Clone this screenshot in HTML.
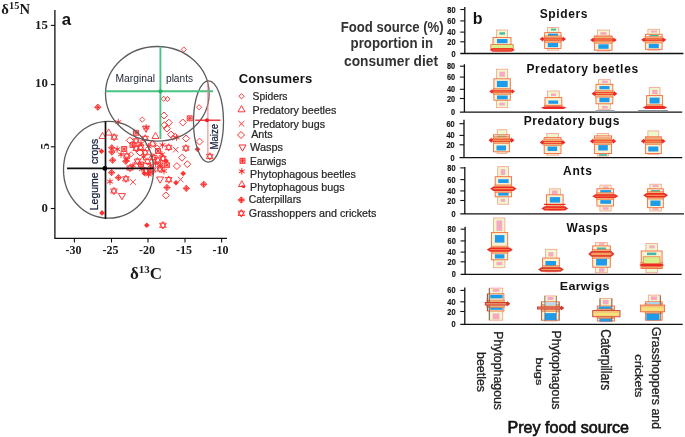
<!DOCTYPE html>
<html><head><meta charset="utf-8"><title>Figure</title>
<style>
html,body{margin:0;padding:0;background:#fff;}
body{width:685px;height:437px;overflow:hidden;}
svg{display:block;filter:blur(0.4px);}
.ser{font-family:"Liberation Serif",serif;font-weight:bold;fill:#1a1a1a;}
.sans{font-family:"Liberation Sans",sans-serif;}
.b{font-weight:bold;}
</style></head><body>
<svg width="685" height="437" viewBox="0 0 685 437">
<rect width="685" height="437" fill="#fff"/>
<defs>
<g id="m-sp" fill="none" stroke="#ff2020" stroke-width="0.9"><path d="M0-2.6L2.6 0L0 2.6L-2.6 0Z"/></g>
<g id="m-pb" fill="none" stroke="#ff2020" stroke-width="0.9"><path d="M0-3.6L3.5 2.6L-3.5 2.6Z"/></g>
<g id="m-px" fill="none" stroke="#ff2020" stroke-width="0.9"><path d="M-2.8-2.8L2.8 2.8M-2.8 2.8L2.8-2.8"/></g>
<g id="m-an" fill="none" stroke="#ff2020" stroke-width="0.95"><path d="M0-3.5L3.5 0L0 3.5L-3.5 0Z"/></g>
<g id="m-wa" fill="none" stroke="#ff2020" stroke-width="0.95"><path d="M0 3.6L3.5-2.6L-3.5-2.6Z"/></g>
<g id="m-ea" fill="none" stroke="#ff2020" stroke-width="0.9"><path d="M-2.5-2.5H2.5V2.5H-2.5ZM-2.5-2.5L2.5 2.5M-2.5 2.5L2.5-2.5M0-2.5V2.5M-2.5 0H2.5"/></g>
<g id="m-hb" fill="none" stroke="#ff2020" stroke-width="0.9"><path d="M0-3.4V3.4M-3-1.7L3 1.7M-3 1.7L3-1.7"/><circle r="1.3" fill="#ff2020" stroke="none"/></g>
<g id="m-hg" fill="none" stroke="#ff2020" stroke-width="0.9"><path d="M0-3.6L3.3 2.2L-3.3 2.2Z"/><path d="M0.5 0.5L3 3.4M0 1L2 3.8" /><circle cx="1.6" cy="2.6" r="1.2" fill="#ff2020" stroke="none"/></g>
<g id="m-ca" stroke="#ff2020" stroke-width="0.9"><path d="M0-3.1L3.1 0L0 3.1L-3.1 0Z" fill="#ffb0b0"/><path d="M0-3.1V3.1M-3.1 0H3.1" fill="none"/><path d="M0-1.6L1.6 0L0 1.6L-1.6 0Z" fill="#ff2020" stroke="none"/></g>
<g id="m-gr" fill="none" stroke="#ff2020" stroke-width="0.9"><path d="M0-3.7L3.3 2.1L-3.3 2.1Z"/><path d="M0 3.7L3.3-2.1L-3.3-2.1Z"/></g>
<g id="m-fd" stroke="none" fill="#ff2020"><path d="M0-2.8L2.8 0L0 2.8L-2.8 0Z"/></g>
</defs>

<g id="panel-a">
<path d="M54.9 10V238.3H227" fill="none" stroke="#111" stroke-width="1.3"/>
<path d="M50.8 25.4H55" stroke="#111" stroke-width="1.1"/>
<path d="M50.8 84.6H55" stroke="#111" stroke-width="1.1"/>
<path d="M50.8 146.8H55" stroke="#111" stroke-width="1.1"/>
<path d="M50.8 208.5H55" stroke="#111" stroke-width="1.1"/>
<path d="M74.4 238.4V242.5" stroke="#111" stroke-width="1.1"/>
<path d="M111.5 238.4V242.5" stroke="#111" stroke-width="1.1"/>
<path d="M148 238.4V242.5" stroke="#111" stroke-width="1.1"/>
<path d="M185 238.4V242.5" stroke="#111" stroke-width="1.1"/>
<path d="M221.6 238.4V242.5" stroke="#111" stroke-width="1.1"/>
<text class="ser" x="47.8" y="28.5" font-size="12.8" text-anchor="end">15</text>
<text class="ser" x="47.8" y="87.4" font-size="12.8" text-anchor="end">10</text>
<text class="ser" x="47.8" y="212.0" font-size="12.8" text-anchor="end">0</text>
<text class="ser" transform="translate(49.3,146.3) rotate(-90)" font-size="12.8" text-anchor="middle">5</text>
<text class="ser" x="73.5" y="254.3" font-size="12" text-anchor="middle">-30</text>
<text class="ser" x="110.5" y="254.3" font-size="12" text-anchor="middle">-25</text>
<text class="ser" x="147" y="254.3" font-size="12" text-anchor="middle">-20</text>
<text class="ser" x="184" y="254.3" font-size="12" text-anchor="middle">-15</text>
<text class="ser" x="220.6" y="254.3" font-size="12" text-anchor="middle">-10</text>
<text class="ser" x="1.3" y="13.8" font-size="14.6" textLength="28.8" lengthAdjust="spacing">δ<tspan font-size="10.4" dy="-4.8">15</tspan><tspan dy="4.8">N</tspan></text>
<text class="ser" x="130" y="279" font-size="17">δ<tspan font-size="11" dy="-6">13</tspan><tspan dy="6">C</tspan></text>
<text class="sans b" x="61.7" y="24.8" font-size="16.8" fill="#111">a</text>
<g id="scatter" opacity="0.92">
<use href="#m-ca" x="97.8" y="107.2"/>
<use href="#m-hb" x="118.3" y="122.1"/>
<use href="#m-sp" x="142.3" y="119.6"/>
<use href="#m-sp" x="163.7" y="98.8"/>
<use href="#m-sp" x="167.5" y="99.0"/>
<use href="#m-an" x="164.0" y="115.5"/>
<use href="#m-sp" x="183.8" y="49.5"/>
<use href="#m-sp" x="199.1" y="107.2"/>
<use href="#m-ea" x="189.7" y="118.3"/>
<use href="#m-an" x="182.8" y="122.5"/>
<use href="#m-an" x="164.4" y="125.2"/>
<use href="#m-an" x="168.8" y="122.7"/>
<use href="#m-an" x="166.9" y="128.6"/>
<use href="#m-an" x="171.1" y="134.6"/>
<use href="#m-sp" x="175.3" y="135.9"/>
<use href="#m-hb" x="176.5" y="137.5"/>
<use href="#m-sp" x="173.0" y="137.8"/>
<use href="#m-wa" x="146.0" y="128.8"/>
<use href="#m-hb" x="146.2" y="127.6"/>
<use href="#m-pb" x="102.5" y="135.9"/>
<use href="#m-pb" x="108.7" y="132.5"/>
<use href="#m-gr" x="114.2" y="137.2"/>
<use href="#m-ea" x="136.0" y="132.8"/>
<use href="#m-pb" x="155.5" y="135.9"/>
<use href="#m-an" x="129.8" y="140.4"/>
<use href="#m-an" x="186.1" y="138.5"/>
<use href="#m-an" x="199.5" y="141.6"/>
<use href="#m-gr" x="136.0" y="140.9"/>
<use href="#m-gr" x="145.2" y="138.4"/>
<use href="#m-an" x="152.7" y="143.6"/>
<use href="#m-pb" x="152.5" y="143.5"/>
<use href="#m-fd" x="101.5" y="151.2"/>
<use href="#m-hb" x="162.5" y="145.0"/>
<use href="#m-gr" x="168.7" y="147.4"/>
<use href="#m-px" x="175.7" y="149.7"/>
<use href="#m-gr" x="185.9" y="148.2"/>
<use href="#m-fd" x="197.5" y="149.2"/>
<use href="#m-ca" x="111.8" y="147.8"/>
<use href="#m-ca" x="111.8" y="152.0"/>
<use href="#m-hb" x="117.2" y="149.2"/>
<use href="#m-ea" x="124.2" y="149.0"/>
<use href="#m-gr" x="136.2" y="148.4"/>
<use href="#m-gr" x="140.6" y="147.4"/>
<use href="#m-gr" x="126.8" y="156.0"/>
<use href="#m-ca" x="112.6" y="160.2"/>
<use href="#m-gr" x="137.5" y="161.2"/>
<use href="#m-ca" x="125.8" y="161.2"/>
<use href="#m-sp" x="131.0" y="154.3"/>
<use href="#m-hb" x="127.0" y="159.6"/>
<use href="#m-gr" x="145.2" y="152.6"/>
<use href="#m-hb" x="151.9" y="156.0"/>
<use href="#m-gr" x="157.7" y="160.1"/>
<use href="#m-hb" x="161.9" y="154.3"/>
<use href="#m-fd" x="166.1" y="161.0"/>
<use href="#m-ea" x="166.9" y="165.2"/>
<use href="#m-an" x="182.0" y="157.7"/>
<use href="#m-an" x="187.3" y="164.2"/>
<use href="#m-an" x="176.9" y="166.1"/>
<use href="#m-fd" x="183.2" y="173.5"/>
<use href="#m-px" x="180.6" y="179.5"/>
<use href="#m-fd" x="176.0" y="182.8"/>
<use href="#m-ca" x="203.7" y="184.3"/>
<use href="#m-ca" x="186.3" y="188.4"/>
<use href="#m-gr" x="168.7" y="179.6"/>
<use href="#m-wa" x="160.1" y="179.6"/>
<use href="#m-ca" x="167.0" y="187.5"/>
<use href="#m-an" x="165.9" y="195.4"/>
<use href="#m-ca" x="111.6" y="172.6"/>
<use href="#m-ca" x="118.4" y="177.6"/>
<use href="#m-gr" x="125.9" y="178.8"/>
<use href="#m-px" x="133.0" y="182.1"/>
<use href="#m-hb" x="110.0" y="181.6"/>
<use href="#m-gr" x="113.9" y="191.0"/>
<use href="#m-wa" x="122.0" y="196.2"/>
<use href="#m-fd" x="102.0" y="212.9"/>
<use href="#m-gr" x="209.8" y="156.4"/>
<use href="#m-fd" x="146.8" y="225.3"/>
<use href="#m-gr" x="162.9" y="225.3"/>
<use href="#m-hb" x="142.0" y="169.0"/>
<use href="#m-gr" x="146.0" y="171.0"/>
<use href="#m-ea" x="150.0" y="172.3"/>
<use href="#m-hb" x="148.5" y="174.5"/>
<use href="#m-gr" x="152.5" y="170.0"/>
<use href="#m-fd" x="144.5" y="173.5"/>
<use href="#m-gr" x="153.5" y="157.5"/>
<use href="#m-hb" x="155.5" y="163.5"/>
<use href="#m-ea" x="160.5" y="165.5"/>
<use href="#m-gr" x="163.0" y="158.5"/>
<use href="#m-ea" x="158.0" y="151.0"/>
<use href="#m-hb" x="141.0" y="143.5"/>
<use href="#m-ea" x="132.5" y="145.0"/>
<use href="#m-hb" x="148.5" y="146.5"/>
<use href="#m-hb" x="143.5" y="157.0"/>
<use href="#m-gr" x="147.5" y="161.5"/>
<use href="#m-ea" x="141.0" y="164.5"/>
<use href="#m-hb" x="150.5" y="165.5"/>
<use href="#m-hb" x="133.0" y="165.5"/>
<use href="#m-gr" x="130.0" y="168.0"/>
<use href="#m-hb" x="121.0" y="154.5"/>
<use href="#m-an" x="140.0" y="152.5"/>
<use href="#m-sp" x="157.0" y="147.5"/>
<use href="#m-gr" x="160.0" y="169.0"/>
<use href="#m-hb" x="164.0" y="171.0"/>
</g>
<g fill="none" stroke="#5c5c5c" stroke-width="1.3">
<ellipse cx="157.3" cy="93.8" rx="51.8" ry="47.3"/>
<ellipse cx="108.5" cy="169.8" rx="45" ry="48.4"/>
<ellipse cx="208.5" cy="121.5" rx="15" ry="40.6"/>
</g>
<path d="M105.5 91.3H213M160.4 46.5V139" stroke="#49c384" stroke-width="1.9" fill="none"/>
<circle cx="160.4" cy="91.3" r="2.1" fill="#2fae6c"/>
<path d="M67 168.3H153.6M105.5 121.3V219" stroke="#111" stroke-width="1.7" fill="none"/>
<circle cx="104.8" cy="168.4" r="2.4" fill="#000"/>
<path d="M207.9 81.5V154" stroke="#f47a7e" stroke-width="1" fill="none"/>
<path d="M195.3 120.2H220.5" stroke="#ee1c25" stroke-width="1.3" fill="none"/>
<circle cx="207" cy="120.2" r="2" fill="#ee1c25"/>
<text class="sans" x="115.5" y="82" font-size="10.2" fill="#1c2230" textLength="39.5" lengthAdjust="spacingAndGlyphs">Marginal</text>
<text class="sans" x="166" y="82" font-size="10.2" fill="#1c2230" textLength="27" lengthAdjust="spacingAndGlyphs">plants</text>
<text class="sans" transform="translate(98,210.2) rotate(-90)" font-size="10.4" fill="#18203a" stroke="#18203a" stroke-width="0.25" textLength="37.8" lengthAdjust="spacingAndGlyphs">Legume</text>
<text class="sans" transform="translate(98,164.1) rotate(-90)" font-size="10.4" fill="#18203a" stroke="#18203a" stroke-width="0.25" textLength="25.2" lengthAdjust="spacingAndGlyphs">crops</text>
<text class="sans" transform="translate(217.6,149.5) rotate(-90)" font-size="10.4" fill="#18203a" stroke="#18203a" stroke-width="0.25" textLength="25.5" lengthAdjust="spacingAndGlyphs">Maize</text>
</g>
<g id="legend">
<text class="sans b" x="238.7" y="83.3" font-size="13" fill="#111" textLength="73.6" lengthAdjust="spacing">Consumers</text>
<use href="#m-sp" x="241.5" y="96.3"/>
<text class="sans" x="252.5" y="100" font-size="10.6" fill="#262626" stroke="#262626" stroke-width="0.22" textLength="35" lengthAdjust="spacingAndGlyphs">Spiders</text>
<use href="#m-pb" x="241.5" y="109.2"/>
<text class="sans" x="252.5" y="113.8" font-size="10.6" fill="#262626" stroke="#262626" stroke-width="0.22" textLength="83.8" lengthAdjust="spacingAndGlyphs">Predatory beetles</text>
<use href="#m-px" x="241.5" y="123.8"/>
<text class="sans" x="252.5" y="127.5" font-size="10.6" fill="#262626" stroke="#262626" stroke-width="0.22" textLength="72.5" lengthAdjust="spacingAndGlyphs">Predatory bugs</text>
<use href="#m-an" x="241" y="135"/>
<text class="sans" x="251.2" y="138" font-size="10.6" fill="#262626" stroke="#262626" stroke-width="0.22" textLength="21.5" lengthAdjust="spacingAndGlyphs">Ants</text>
<use href="#m-wa" x="242.5" y="147.6"/>
<text class="sans" x="250" y="150.8" font-size="10.6" fill="#262626" stroke="#262626" stroke-width="0.22" textLength="33" lengthAdjust="spacingAndGlyphs">Wasps</text>
<use href="#m-ea" x="242.5" y="160.8"/>
<text class="sans" x="250" y="164.5" font-size="10.6" fill="#262626" stroke="#262626" stroke-width="0.22" textLength="36.3" lengthAdjust="spacingAndGlyphs">Earwigs</text>
<use href="#m-hb" x="241.8" y="171.3"/>
<text class="sans" x="250" y="177.5" font-size="10.6" fill="#262626" stroke="#262626" stroke-width="0.22" textLength="105.8" lengthAdjust="spacingAndGlyphs">Phytophagous beetles</text>
<use href="#m-hg" x="241.8" y="184.3"/>
<text class="sans" x="250" y="190.8" font-size="10.6" fill="#262626" stroke="#262626" stroke-width="0.22" textLength="94.5" lengthAdjust="spacingAndGlyphs">Phytophagous bugs</text>
<use href="#m-ca" x="241.3" y="200"/>
<text class="sans" x="248.8" y="203" font-size="10.6" fill="#262626" stroke="#262626" stroke-width="0.22" textLength="52.5" lengthAdjust="spacingAndGlyphs">Caterpillars</text>
<use href="#m-gr" x="241.3" y="213.3"/>
<text class="sans" x="248.8" y="217" font-size="10.6" fill="#262626" stroke="#262626" stroke-width="0.22" textLength="127.5" lengthAdjust="spacingAndGlyphs">Grasshoppers and crickets</text>
</g>
<g id="panel-b">
<g class="sans b" font-size="14.6" fill="#333" text-anchor="middle">
<text x="392.2" y="32" textLength="103" lengthAdjust="spacingAndGlyphs">Food source (%)</text>
<text x="391.8" y="48.3" textLength="82.5" lengthAdjust="spacingAndGlyphs">proportion in</text>
<text x="391" y="65.5" textLength="94" lengthAdjust="spacingAndGlyphs">consumer diet</text>
</g>
<text class="sans b" x="472.7" y="24.2" font-size="16" fill="#111">b</text>
<path d="M464.8 7V53.5M460.3 53.5H683.4" fill="none" stroke="#111" stroke-width="1.3"/>
<path d="M460.3 9.5H464.8" stroke="#111" stroke-width="1.1"/>
<text class="sans b" x="455.5" y="12.5" font-size="8.4" fill="#1c1c1c" stroke="#1c1c1c" stroke-width="0.2" text-anchor="end" textLength="8.2" lengthAdjust="spacingAndGlyphs">80</text>
<path d="M460.3 20.9H464.8" stroke="#111" stroke-width="1.1"/>
<text class="sans b" x="455.5" y="23.9" font-size="8.4" fill="#1c1c1c" stroke="#1c1c1c" stroke-width="0.2" text-anchor="end" textLength="8.2" lengthAdjust="spacingAndGlyphs">60</text>
<path d="M460.3 32.1H464.8" stroke="#111" stroke-width="1.1"/>
<text class="sans b" x="455.5" y="35.1" font-size="8.4" fill="#1c1c1c" stroke="#1c1c1c" stroke-width="0.2" text-anchor="end" textLength="8.2" lengthAdjust="spacingAndGlyphs">40</text>
<path d="M460.3 41.8H464.8" stroke="#111" stroke-width="1.1"/>
<text class="sans b" x="455.5" y="44.8" font-size="8.4" fill="#1c1c1c" stroke="#1c1c1c" stroke-width="0.2" text-anchor="end" textLength="8.2" lengthAdjust="spacingAndGlyphs">20</text>
<text class="sans b" x="455.5" y="56.5" font-size="8.4" fill="#1c1c1c" stroke="#1c1c1c" stroke-width="0.2" text-anchor="end" textLength="4.1" lengthAdjust="spacingAndGlyphs">0</text>
<text class="sans b" transform="translate(539.7,17.9) scale(1,1)" font-size="12.0" fill="#111" textLength="47.7" lengthAdjust="spacing">Spiders</text>
<path d="M464.4 64.2V112.2M459.9 112.2H682.2" fill="none" stroke="#111" stroke-width="1.3"/>
<path d="M459.9 66.2H464.4" stroke="#111" stroke-width="1.1"/>
<text class="sans b" x="455.09999999999997" y="69.2" font-size="8.4" fill="#1c1c1c" stroke="#1c1c1c" stroke-width="0.2" text-anchor="end" textLength="8.2" lengthAdjust="spacingAndGlyphs">80</text>
<path d="M459.9 77.1H464.4" stroke="#111" stroke-width="1.1"/>
<text class="sans b" x="455.09999999999997" y="80.1" font-size="8.4" fill="#1c1c1c" stroke="#1c1c1c" stroke-width="0.2" text-anchor="end" textLength="8.2" lengthAdjust="spacingAndGlyphs">60</text>
<path d="M459.9 89.3H464.4" stroke="#111" stroke-width="1.1"/>
<text class="sans b" x="455.09999999999997" y="92.3" font-size="8.4" fill="#1c1c1c" stroke="#1c1c1c" stroke-width="0.2" text-anchor="end" textLength="8.2" lengthAdjust="spacingAndGlyphs">40</text>
<path d="M459.9 98.5H464.4" stroke="#111" stroke-width="1.1"/>
<text class="sans b" x="455.09999999999997" y="101.5" font-size="8.4" fill="#1c1c1c" stroke="#1c1c1c" stroke-width="0.2" text-anchor="end" textLength="8.2" lengthAdjust="spacingAndGlyphs">20</text>
<text class="sans b" x="455.09999999999997" y="115.2" font-size="8.4" fill="#1c1c1c" stroke="#1c1c1c" stroke-width="0.2" text-anchor="end" textLength="4.1" lengthAdjust="spacingAndGlyphs">0</text>
<text class="sans b" transform="translate(526.4,73.2) scale(1,1)" font-size="12.0" fill="#111" textLength="111.8" lengthAdjust="spacing">Predatory beetles</text>
<path d="M464 119.7V157.7M459.5 157.7H682.2" fill="none" stroke="#111" stroke-width="1.3"/>
<path d="M459.5 123.7H464" stroke="#111" stroke-width="1.1"/>
<text class="sans b" x="454.7" y="126.7" font-size="8.4" fill="#1c1c1c" stroke="#1c1c1c" stroke-width="0.2" text-anchor="end" textLength="8.2" lengthAdjust="spacingAndGlyphs">60</text>
<path d="M459.5 135.4H464" stroke="#111" stroke-width="1.1"/>
<text class="sans b" x="454.7" y="138.4" font-size="8.4" fill="#1c1c1c" stroke="#1c1c1c" stroke-width="0.2" text-anchor="end" textLength="8.2" lengthAdjust="spacingAndGlyphs">40</text>
<path d="M459.5 144.8H464" stroke="#111" stroke-width="1.1"/>
<text class="sans b" x="454.7" y="147.8" font-size="8.4" fill="#1c1c1c" stroke="#1c1c1c" stroke-width="0.2" text-anchor="end" textLength="8.2" lengthAdjust="spacingAndGlyphs">20</text>
<text class="sans b" x="454.7" y="160.7" font-size="8.4" fill="#1c1c1c" stroke="#1c1c1c" stroke-width="0.2" text-anchor="end" textLength="4.1" lengthAdjust="spacingAndGlyphs">0</text>
<text class="sans b" transform="translate(523.7,125.2) scale(1,1)" font-size="12.0" fill="#111" textLength="95.8" lengthAdjust="spacing">Predatory bugs</text>
<path d="M464.8 167V213.9M460.3 213.9H683.9" fill="none" stroke="#111" stroke-width="1.3"/>
<path d="M460.3 167.9H464.8" stroke="#111" stroke-width="1.1"/>
<text class="sans b" x="455.5" y="170.9" font-size="8.4" fill="#1c1c1c" stroke="#1c1c1c" stroke-width="0.2" text-anchor="end" textLength="8.2" lengthAdjust="spacingAndGlyphs">80</text>
<path d="M460.3 179.6H464.8" stroke="#111" stroke-width="1.1"/>
<text class="sans b" x="455.5" y="182.6" font-size="8.4" fill="#1c1c1c" stroke="#1c1c1c" stroke-width="0.2" text-anchor="end" textLength="8.2" lengthAdjust="spacingAndGlyphs">60</text>
<path d="M460.3 190.9H464.8" stroke="#111" stroke-width="1.1"/>
<text class="sans b" x="455.5" y="193.9" font-size="8.4" fill="#1c1c1c" stroke="#1c1c1c" stroke-width="0.2" text-anchor="end" textLength="8.2" lengthAdjust="spacingAndGlyphs">40</text>
<path d="M460.3 200.5H464.8" stroke="#111" stroke-width="1.1"/>
<text class="sans b" x="455.5" y="203.5" font-size="8.4" fill="#1c1c1c" stroke="#1c1c1c" stroke-width="0.2" text-anchor="end" textLength="8.2" lengthAdjust="spacingAndGlyphs">20</text>
<text class="sans b" x="455.5" y="216.9" font-size="8.4" fill="#1c1c1c" stroke="#1c1c1c" stroke-width="0.2" text-anchor="end" textLength="4.1" lengthAdjust="spacingAndGlyphs">0</text>
<text class="sans b" transform="translate(563.1,175.2) scale(1,1)" font-size="12.0" fill="#111" textLength="28.8" lengthAdjust="spacing">Ants</text>
<path d="M465.1 226.7V274.4M460.6 274.4H681.7" fill="none" stroke="#111" stroke-width="1.3"/>
<path d="M460.6 229.2H465.1" stroke="#111" stroke-width="1.1"/>
<text class="sans b" x="455.8" y="232.2" font-size="8.4" fill="#1c1c1c" stroke="#1c1c1c" stroke-width="0.2" text-anchor="end" textLength="8.2" lengthAdjust="spacingAndGlyphs">80</text>
<path d="M460.6 240.9H465.1" stroke="#111" stroke-width="1.1"/>
<text class="sans b" x="455.8" y="243.9" font-size="8.4" fill="#1c1c1c" stroke="#1c1c1c" stroke-width="0.2" text-anchor="end" textLength="8.2" lengthAdjust="spacingAndGlyphs">60</text>
<path d="M460.6 252.1H465.1" stroke="#111" stroke-width="1.1"/>
<text class="sans b" x="455.8" y="255.1" font-size="8.4" fill="#1c1c1c" stroke="#1c1c1c" stroke-width="0.2" text-anchor="end" textLength="8.2" lengthAdjust="spacingAndGlyphs">40</text>
<path d="M460.6 261.8H465.1" stroke="#111" stroke-width="1.1"/>
<text class="sans b" x="455.8" y="264.8" font-size="8.4" fill="#1c1c1c" stroke="#1c1c1c" stroke-width="0.2" text-anchor="end" textLength="8.2" lengthAdjust="spacingAndGlyphs">20</text>
<text class="sans b" x="455.8" y="277.4" font-size="8.4" fill="#1c1c1c" stroke="#1c1c1c" stroke-width="0.2" text-anchor="end" textLength="4.1" lengthAdjust="spacingAndGlyphs">0</text>
<text class="sans b" transform="translate(566.5,231.8) scale(1,1)" font-size="12.0" fill="#111" textLength="41.3" lengthAdjust="spacing">Wasps</text>
<path d="M464.8 287.6V324.4M460.3 324.4H682.7" fill="none" stroke="#111" stroke-width="1.3"/>
<path d="M460.3 290.4H464.8" stroke="#111" stroke-width="1.1"/>
<text class="sans b" x="455.5" y="293.4" font-size="8.4" fill="#1c1c1c" stroke="#1c1c1c" stroke-width="0.2" text-anchor="end" textLength="8.2" lengthAdjust="spacingAndGlyphs">60</text>
<path d="M460.3 301.8H464.8" stroke="#111" stroke-width="1.1"/>
<text class="sans b" x="455.5" y="304.8" font-size="8.4" fill="#1c1c1c" stroke="#1c1c1c" stroke-width="0.2" text-anchor="end" textLength="8.2" lengthAdjust="spacingAndGlyphs">40</text>
<path d="M460.3 311.5H464.8" stroke="#111" stroke-width="1.1"/>
<text class="sans b" x="455.5" y="314.5" font-size="8.4" fill="#1c1c1c" stroke="#1c1c1c" stroke-width="0.2" text-anchor="end" textLength="8.2" lengthAdjust="spacingAndGlyphs">20</text>
<text class="sans b" x="455.5" y="327.4" font-size="8.4" fill="#1c1c1c" stroke="#1c1c1c" stroke-width="0.2" text-anchor="end" textLength="4.1" lengthAdjust="spacingAndGlyphs">0</text>
<text class="sans b" transform="translate(559.8,289.8) scale(1,0.84)" font-size="12.6" fill="#111" textLength="49.7" lengthAdjust="spacing">Earwigs</text>
<g id="glyphs">
<rect x="496.5" y="30.0" width="11.0" height="21.0" fill="#eff7cc" stroke="#f6a08c" stroke-width="0.8"/>
<rect x="493.0" y="37.5" width="18.0" height="13.5" fill="#f9f1cf" stroke="#f26a40" stroke-width="0.9"/>
<rect x="499.5" y="32.3" width="5.5" height="2.3" fill="#46b5a6"/>
<rect x="497.0" y="39.0" width="10.5" height="4.2" fill="#1e9be9"/>
<rect x="492.7" y="46.8" width="18.6" height="4.2" fill="#efb274" stroke="#f26a40" stroke-width="0.5"/>
<rect x="490.8" y="44.6" width="22.4" height="4" fill="#d9f08a" stroke="#f26a40" stroke-width="0.8"/>
<path d="M489.5 49.9L492.7 48.3H511.8L515.0 49.9L511.8 51.5H492.7Z" fill="#ee2a24"/>
<path d="M492.7 49.9H511.8" stroke="#f7a05a" stroke-width="0.6"/>
<rect x="547.6" y="27.6" width="11.2" height="22.6" fill="#eff7cc" stroke="#f6a08c" stroke-width="0.8"/>
<rect x="544.7" y="32.6" width="16.3" height="15.9" fill="#f9f1cf" stroke="#f26a40" stroke-width="0.9"/>
<rect x="551.0" y="28.6" width="5.0" height="1.9" fill="#46b5a6"/>
<rect x="547.8" y="43.0" width="10.3" height="4.2" fill="#1e9be9"/>
<rect x="548.0" y="33.6" width="10.0" height="2.4" fill="#1e9be9"/>
<rect x="544.4" y="35.8" width="16.9" height="6.7" fill="#efb274" stroke="#f26a40" stroke-width="0.5"/>
<path d="M539.7 39.1L542.9 36.6V37.8H562.8V36.6L566.0 39.1L562.8 41.7V40.5H542.9V41.7Z" fill="#ee2a24"/>
<path d="M543.9 39.1H561.8" stroke="#f7a05a" stroke-width="1.1"/>
<rect x="597.3" y="30.1" width="12.2" height="20.9" fill="#eff7cc" stroke="#f6a08c" stroke-width="0.8"/>
<rect x="600.5" y="32.1" width="6.0" height="2.7" fill="#f9a8c4"/>
<rect x="594.4" y="36.0" width="17.6" height="14.2" fill="#f9f1cf" stroke="#f26a40" stroke-width="0.9"/>
<rect x="598.3" y="44.3" width="10.3" height="4.5" fill="#1e9be9"/>
<rect x="594.1" y="36.6" width="18.2" height="6.7" fill="#efb274" stroke="#f26a40" stroke-width="0.5"/>
<path d="M590.2 40.0L593.4 37.4V38.6H613.5V37.4L616.7 40.0L613.5 42.5V41.3H593.4V42.5Z" fill="#ee2a24"/>
<path d="M594.4 40.0H612.5" stroke="#f7a05a" stroke-width="1.1"/>
<rect x="647.9" y="29.3" width="11.7" height="20.9" fill="#eff7cc" stroke="#f6a08c" stroke-width="0.8"/>
<rect x="651.0" y="30.6" width="6.0" height="2.0" fill="#f9a8c4"/>
<rect x="645.4" y="34.3" width="16.7" height="15.0" fill="#f9f1cf" stroke="#f26a40" stroke-width="0.9"/>
<rect x="649.5" y="34.9" width="9.0" height="1.6" fill="#46b5a6"/>
<rect x="648.8" y="43.8" width="10.0" height="4.4" fill="#1e9be9"/>
<rect x="645.1" y="36.6" width="17.3" height="6.4" fill="#efb274" stroke="#f26a40" stroke-width="0.5"/>
<path d="M641.2 39.8L644.4 37.4V38.6H663.1V37.4L666.3 39.8L663.1 42.2V41.0H644.4V42.2Z" fill="#ee2a24"/>
<path d="M645.4 39.8H662.1" stroke="#f7a05a" stroke-width="0.8"/>
<rect x="496.4" y="69.2" width="11.3" height="38.5" fill="#eff7cc" stroke="#f6a08c" stroke-width="0.8"/>
<rect x="499.4" y="71.7" width="5.5" height="5.1" fill="#f9a8c4"/>
<rect x="499.4" y="102.7" width="5.5" height="2.8" fill="#f9a8c4"/>
<rect x="493.9" y="78.8" width="16.4" height="21.4" fill="#f9f1cf" stroke="#f26a40" stroke-width="0.9"/>
<rect x="496.9" y="80.9" width="10.8" height="6.2" fill="#1e9be9"/>
<rect x="497.0" y="95.5" width="10.7" height="3.8" fill="#1e9be9"/>
<rect x="493.6" y="88.3" width="17.0" height="6.2" fill="#efb274" stroke="#f26a40" stroke-width="0.5"/>
<path d="M489.3 91.4L492.5 89.1V90.3H511.8V89.1L515.0 91.4L511.8 93.7V92.5H492.5V93.7Z" fill="#ee2a24"/>
<path d="M493.5 91.4H510.8" stroke="#f7a05a" stroke-width="0.6"/>
<rect x="547.6" y="91.0" width="11.7" height="15.8" fill="#eff7cc" stroke="#f6a08c" stroke-width="0.8"/>
<rect x="551.0" y="93.5" width="5.0" height="2.5" fill="#f9a8c4"/>
<rect x="545.0" y="97.6" width="16.8" height="8.4" fill="#f9f1cf" stroke="#f26a40" stroke-width="0.9"/>
<rect x="548.4" y="100.5" width="9.7" height="3.3" fill="#1e9be9"/>
<rect x="544.7" y="105.1" width="17.4" height="0.9" fill="#efb274" stroke="#f26a40" stroke-width="0.5"/>
<path d="M540.9 107.8L544.1 106.6H563.3L566.5 107.8L563.3 109.0H544.1Z" fill="#ee2a24"/>
<rect x="598.6" y="79.7" width="11.7" height="29.6" fill="#eff7cc" stroke="#f6a08c" stroke-width="0.8"/>
<rect x="602.0" y="80.6" width="5.8" height="2.4" fill="#f9a8c4"/>
<rect x="602.0" y="106.0" width="5.8" height="2.5" fill="#f9a8c4"/>
<rect x="596.0" y="84.3" width="16.8" height="19.5" fill="#f9f1cf" stroke="#f26a40" stroke-width="0.9"/>
<rect x="599.4" y="86.0" width="10.1" height="3.3" fill="#1e9be9"/>
<rect x="599.4" y="97.6" width="10.1" height="4.6" fill="#1e9be9"/>
<rect x="595.7" y="90.3" width="17.4" height="6.8" fill="#efb274" stroke="#f26a40" stroke-width="0.5"/>
<rect x="595.5" y="110" width="19" height="1.6" fill="#9aa7b4"/>
<path d="M591.6 93.7L594.8 91.1V92.3H614.1V91.1L617.3 93.7L614.1 96.3V95.1H594.8V96.3Z" fill="#ee2a24"/>
<path d="M595.8 93.7H613.1" stroke="#f7a05a" stroke-width="1.2"/>
<rect x="649.3" y="87.6" width="10.7" height="19.2" fill="#eff7cc" stroke="#f6a08c" stroke-width="0.8"/>
<rect x="652.2" y="89.8" width="5.4" height="4.5" fill="#f9a8c4"/>
<rect x="646.6" y="95.6" width="16.0" height="10.4" fill="#f9f1cf" stroke="#f26a40" stroke-width="0.9"/>
<rect x="649.6" y="97.6" width="10.0" height="5.9" fill="#1e9be9"/>
<rect x="646.3" y="104.5" width="16.6" height="1.5" fill="#efb274" stroke="#f26a40" stroke-width="0.5"/>
<rect x="638" y="110" width="30" height="1.6" fill="#8a8f96"/>
<path d="M642.6 107.5L645.8 106.0H664.0L667.2 107.5L664.0 109.0H645.8Z" fill="#ee2a24"/>
<rect x="497.2" y="129.7" width="9.7" height="23.8" fill="#eff7cc" stroke="#f6a08c" stroke-width="0.8"/>
<rect x="493.5" y="134.8" width="15.9" height="17.0" fill="#f9f1cf" stroke="#f26a40" stroke-width="0.9"/>
<rect x="497.0" y="135.8" width="9.5" height="1.7" fill="#46b5a6"/>
<rect x="496.5" y="145.5" width="9.5" height="5.0" fill="#1e9be9"/>
<rect x="493.2" y="136.7" width="16.5" height="7.0" fill="#efb274" stroke="#f26a40" stroke-width="0.5"/>
<path d="M488.5 140.2L491.7 137.5V138.7H511.2V137.5L514.4 140.2L511.2 142.9V141.7H491.7V142.9Z" fill="#ee2a24"/>
<path d="M492.7 140.2H510.2" stroke="#f7a05a" stroke-width="1.4"/>
<rect x="546.8" y="133.4" width="11.7" height="21.8" fill="#eff7cc" stroke="#f6a08c" stroke-width="0.8"/>
<rect x="544.2" y="137.6" width="16.8" height="15.9" fill="#f9f1cf" stroke="#f26a40" stroke-width="0.9"/>
<rect x="547.6" y="146.5" width="9.5" height="4.5" fill="#1e9be9"/>
<rect x="543.9" y="139.0" width="17.4" height="6.8" fill="#efb274" stroke="#f26a40" stroke-width="0.5"/>
<path d="M539.7 142.4L542.9 139.8V141.0H562.3V139.8L565.5 142.4L562.3 145.0V143.8H542.9V145.0Z" fill="#ee2a24"/>
<path d="M543.9 142.4H561.3" stroke="#f7a05a" stroke-width="1.2"/>
<rect x="597.3" y="133.4" width="11.3" height="22.6" fill="#eff7cc" stroke="#f6a08c" stroke-width="0.8"/>
<rect x="594.4" y="135.9" width="17.2" height="17.6" fill="#f9f1cf" stroke="#f26a40" stroke-width="0.9"/>
<rect x="599.0" y="154.2" width="8.0" height="1.6" fill="#46b5a6"/>
<rect x="598.3" y="145.1" width="9.5" height="5.4" fill="#1e9be9"/>
<rect x="594.1" y="137.8" width="17.8" height="6.8" fill="#efb274" stroke="#f26a40" stroke-width="0.5"/>
<path d="M589.9 141.2L593.1 138.6V139.8H613.0V138.6L616.2 141.2L613.0 143.8V142.6H593.1V143.8Z" fill="#ee2a24"/>
<path d="M594.1 141.2H612.0" stroke="#f7a05a" stroke-width="1.2"/>
<rect x="647.9" y="130.9" width="10.9" height="23.4" fill="#eff7cc" stroke="#f6a08c" stroke-width="0.8"/>
<rect x="645.4" y="136.8" width="15.9" height="16.7" fill="#f9f1cf" stroke="#f26a40" stroke-width="0.9"/>
<rect x="648.3" y="146.5" width="10.0" height="5.0" fill="#1e9be9"/>
<rect x="645.1" y="137.8" width="16.5" height="6.8" fill="#efb274" stroke="#f26a40" stroke-width="0.5"/>
<path d="M640.9 141.2L644.1 138.6V139.8H662.3V138.6L665.5 141.2L662.3 143.8V142.6H644.1V143.8Z" fill="#ee2a24"/>
<path d="M645.1 141.2H661.3" stroke="#f7a05a" stroke-width="1.2"/>
<rect x="497.7" y="166.7" width="10.9" height="37.6" fill="#eff7cc" stroke="#f6a08c" stroke-width="0.8"/>
<rect x="500.7" y="169.2" width="4.5" height="5.8" fill="#f9a8c4"/>
<rect x="500.7" y="198.8" width="4.5" height="3.0" fill="#f9a8c4"/>
<rect x="495.2" y="176.7" width="16.4" height="20.1" fill="#f9f1cf" stroke="#f26a40" stroke-width="0.9"/>
<rect x="498.2" y="179.2" width="10.4" height="3.8" fill="#1e9be9"/>
<rect x="498.2" y="192.6" width="10.4" height="3.0" fill="#1e9be9"/>
<rect x="494.9" y="184.9" width="17.0" height="7.5" fill="#efb274" stroke="#f26a40" stroke-width="0.5"/>
<path d="M490.2 188.7L493.4 186.4H513.4L516.6 188.7L513.4 190.9H493.4Z" fill="#ee2a24"/>
<path d="M493.4 188.7H513.4" stroke="#f7a05a" stroke-width="1.1"/>
<rect x="549.3" y="188.8" width="11.2" height="21.4" fill="#eff7cc" stroke="#f6a08c" stroke-width="0.8"/>
<rect x="551.8" y="190.4" width="5.8" height="3.9" fill="#f9a8c4"/>
<rect x="546.4" y="194.8" width="16.7" height="13.7" fill="#f9f1cf" stroke="#f26a40" stroke-width="0.9"/>
<rect x="549.8" y="197.1" width="10.3" height="5.5" fill="#1e9be9"/>
<rect x="546.1" y="204.8" width="17.3" height="3.7" fill="#efb274" stroke="#f26a40" stroke-width="0.5"/>
<rect x="544" y="203.8" width="21.5" height="1.2" fill="#ee2a24"/>
<path d="M541.4 208.4L544.6 206.3H565.0L568.2 208.4L565.0 210.4H544.6Z" fill="#ee2a24"/>
<path d="M544.6 208.4H565.0" stroke="#f7a05a" stroke-width="0.7"/>
<rect x="599.9" y="185.1" width="11.2" height="25.9" fill="#eff7cc" stroke="#f6a08c" stroke-width="0.8"/>
<rect x="602.8" y="186.4" width="5.8" height="1.9" fill="#f9a8c4"/>
<rect x="602.8" y="207.2" width="5.8" height="2.6" fill="#f9a8c4"/>
<rect x="596.9" y="188.8" width="16.7" height="17.2" fill="#f9f1cf" stroke="#f26a40" stroke-width="0.9"/>
<rect x="600.3" y="190.1" width="10.8" height="2.5" fill="#1e9be9"/>
<rect x="600.3" y="200.1" width="10.8" height="3.7" fill="#1e9be9"/>
<rect x="596.6" y="192.8" width="17.3" height="6.8" fill="#efb274" stroke="#f26a40" stroke-width="0.5"/>
<path d="M592.2 196.2L595.4 194.3H615.1L618.3 196.2L615.1 198.1H595.4Z" fill="#ee2a24"/>
<path d="M595.4 196.2H615.1" stroke="#f7a05a" stroke-width="0.6"/>
<rect x="649.9" y="184.2" width="11.4" height="26.8" fill="#eff7cc" stroke="#f6a08c" stroke-width="0.8"/>
<rect x="652.5" y="185.0" width="6.0" height="2.2" fill="#f9a8c4"/>
<rect x="652.5" y="208.3" width="6.0" height="1.7" fill="#f9a8c4"/>
<rect x="647.6" y="188.8" width="15.7" height="18.9" fill="#f9f1cf" stroke="#f26a40" stroke-width="0.9"/>
<rect x="651.0" y="190.1" width="9.0" height="1.9" fill="#46b5a6"/>
<rect x="650.4" y="200.5" width="10.1" height="5.5" fill="#1e9be9"/>
<rect x="647.3" y="191.6" width="16.3" height="7.5" fill="#efb274" stroke="#f26a40" stroke-width="0.5"/>
<path d="M643.2 195.3L646.4 193.1H664.8L668.0 195.3L664.8 197.6H646.4Z" fill="#ee2a24"/>
<path d="M646.4 195.3H664.8" stroke="#f7a05a" stroke-width="1.1"/>
<rect x="493.5" y="218.0" width="11.4" height="49.7" fill="#eff7cc" stroke="#f6a08c" stroke-width="0.8"/>
<rect x="496.5" y="220.4" width="5.7" height="10.5" fill="#f9a8c4"/>
<rect x="496.5" y="261.8" width="5.7" height="3.4" fill="#f9a8c4"/>
<rect x="491.5" y="232.6" width="16.2" height="27.2" fill="#f9f1cf" stroke="#f26a40" stroke-width="0.9"/>
<rect x="494.9" y="235.1" width="9.5" height="7.5" fill="#1e9be9"/>
<rect x="494.9" y="254.3" width="9.5" height="4.2" fill="#1e9be9"/>
<rect x="491.2" y="246.1" width="16.8" height="7.2" fill="#efb274" stroke="#f26a40" stroke-width="0.5"/>
<path d="M486.8 249.7L490.0 247.6H509.6L512.8 249.7L509.6 251.8H490.0Z" fill="#ee2a24"/>
<path d="M490.0 249.7H509.6" stroke="#f7a05a" stroke-width="0.8"/>
<rect x="545.4" y="249.3" width="11.4" height="22.6" fill="#eff7cc" stroke="#f6a08c" stroke-width="0.8"/>
<rect x="548.4" y="252.1" width="5.0" height="4.4" fill="#f9a8c4"/>
<rect x="542.6" y="258.1" width="16.7" height="10.4" fill="#f9f1cf" stroke="#f26a40" stroke-width="0.9"/>
<rect x="545.4" y="261.0" width="10.6" height="5.0" fill="#1e9be9"/>
<rect x="542.3" y="265.7" width="17.3" height="2.8" fill="#efb274" stroke="#f26a40" stroke-width="0.5"/>
<path d="M538.1 269.5L541.3 267.2H560.6L563.8 269.5L560.6 271.8H541.3Z" fill="#d8352c"/>
<path d="M541.3 269.5H560.6" stroke="#f7a05a" stroke-width="1.2"/>
<rect x="595.3" y="242.6" width="12.0" height="30.1" fill="#eff7cc" stroke="#f6a08c" stroke-width="0.8"/>
<rect x="599.0" y="243.2" width="5.5" height="1.8" fill="#f9a8c4"/>
<rect x="599.0" y="268.2" width="5.5" height="3.6" fill="#f9a8c4"/>
<rect x="592.7" y="245.9" width="17.6" height="21.3" fill="#f9f1cf" stroke="#f26a40" stroke-width="0.9"/>
<rect x="597.0" y="247.5" width="9.0" height="2.8" fill="#46b5a6"/>
<rect x="596.1" y="258.8" width="10.9" height="6.7" fill="#1e9be9"/>
<rect x="592.4" y="249.5" width="18.2" height="8.8" fill="#efb274" stroke="#f26a40" stroke-width="0.5"/>
<path d="M588.2 253.9L591.4 251.0H611.3L614.5 253.9L611.3 256.8H591.4Z" fill="#e23a30"/>
<path d="M591.4 253.9H611.3" stroke="#f7a05a" stroke-width="2.4"/>
<rect x="645.9" y="243.4" width="11.7" height="29.3" fill="#eff7cc" stroke="#f6a08c" stroke-width="0.8"/>
<rect x="649.3" y="245.4" width="5.3" height="3.0" fill="#f9a8c4"/>
<rect x="641.2" y="251.0" width="20.9" height="17.5" fill="#f9f1cf" stroke="#f26a40" stroke-width="0.9"/>
<rect x="647.0" y="252.6" width="9.3" height="2.5" fill="#46b5a6"/>
<rect x="640.9" y="262.3" width="21.5" height="5.7" fill="#efb274" stroke="#f26a40" stroke-width="0.5"/>
<rect x="643.2" y="256.8" width="16.8" height="7" fill="#d9f08a" stroke="#f26a40" stroke-width="0.7"/>
<path d="M639.2 265.1L642.4 263.8H661.1L664.3 265.1L661.1 266.5H642.4Z" fill="#ee2a24"/>
<rect x="489.3" y="288.1" width="13.4" height="32.1" fill="#eff7cc" stroke="#f6a08c" stroke-width="0.8"/>
<rect x="492.7" y="288.9" width="6.7" height="2.9" fill="#f9a8c4"/>
<rect x="492.7" y="313.5" width="6.7" height="5.8" fill="#f9a8c4"/>
<rect x="487.2" y="293.8" width="16.7" height="17.2" fill="#f9f1cf" stroke="#f26a40" stroke-width="0.9"/>
<rect x="490.2" y="294.8" width="12.5" height="3.6" fill="#1e9be9"/>
<rect x="490.2" y="306.8" width="12.5" height="3.0" fill="#1e9be9"/>
<rect x="486.9" y="300.0" width="17.3" height="7.5" fill="#efb274" stroke="#f26a40" stroke-width="0.5"/>
<path d="M489.3 288.1V320.2M487.6 294V311" stroke="#5a4a44" stroke-width="0.8"/>
<path d="M484.8 301.9H507.1V300.9L510.3 303.8L507.1 306.6V305.6H484.8Z" fill="#cf3a2c"/>
<path d="M485.8 303.8H506.1" stroke="#e8896a" stroke-width="1.7"/>
<rect x="544.7" y="295.9" width="11.8" height="25.1" fill="#eff7cc" stroke="#f6a08c" stroke-width="0.8"/>
<rect x="547.6" y="296.8" width="5.8" height="3.2" fill="#f9a8c4"/>
<rect x="541.4" y="301.8" width="17.9" height="18.4" fill="#f9f1cf" stroke="#f26a40" stroke-width="0.9"/>
<rect x="544.7" y="313.1" width="11.3" height="7.1" fill="#1e9be9"/>
<rect x="541.1" y="304.5" width="18.5" height="7.0" fill="#efb274" stroke="#f26a40" stroke-width="0.5"/>
<rect x="545" y="302.3" width="11" height="3.2" fill="#bcd9ee"/>
<path d="M541.6 302V320.5M544.9 296V321M556.3 296V321M559 302V320.5" stroke="#6a6a6a" stroke-width="0.7"/>
<path d="M537.0 306.4H561.1V305.4L564.3 308.0L561.1 310.6V309.6H537.0Z" fill="#cf3a2c"/>
<path d="M538.0 308.0H560.1" stroke="#e8896a" stroke-width="1.2"/>
<rect x="599.9" y="298.4" width="12.1" height="23.4" fill="#eff7cc" stroke="#f6a08c" stroke-width="0.8"/>
<rect x="602.8" y="299.8" width="5.8" height="4.5" fill="#f9a8c4"/>
<rect x="597.3" y="306.0" width="17.2" height="15.0" fill="#f9f1cf" stroke="#f26a40" stroke-width="0.9"/>
<rect x="598.6" y="306.5" width="12.5" height="3.3" fill="#1e9be9"/>
<rect x="599.4" y="318.2" width="12.2" height="3.3" fill="#1e9be9"/>
<rect x="597.0" y="309.0" width="17.8" height="9.3" fill="#efb274" stroke="#f26a40" stroke-width="0.5"/>
<path d="M600 298.6V306M611.8 298.6V321.5" stroke="#6a4a44" stroke-width="0.8"/>
<rect x="592.7" y="310.5" width="27.3" height="6.3" fill="#f3c178" stroke="#c8483a" stroke-width="0.9"/>
<path d="M593.7 314.2H619.0" stroke="#f5e27a" stroke-width="2.9"/>
<rect x="648.3" y="295.1" width="12.2" height="25.1" fill="#eff7cc" stroke="#f6a08c" stroke-width="0.8"/>
<rect x="650.9" y="296.4" width="6.2" height="3.6" fill="#f9a8c4"/>
<rect x="645.4" y="301.8" width="16.7" height="18.4" fill="#f9f1cf" stroke="#f26a40" stroke-width="0.9"/>
<rect x="646.3" y="312.6" width="13.0" height="7.6" fill="#1e9be9"/>
<rect x="645.1" y="303.6" width="17.3" height="9.7" fill="#efb274" stroke="#f26a40" stroke-width="0.5"/>
<rect x="647" y="302.1" width="13" height="2.2" fill="#a9d3ee"/>
<path d="M660.3 295.5V320" stroke="#6a4a44" stroke-width="0.8"/>
<rect x="640.4" y="305.1" width="24.2" height="6.7" fill="#f3c178" stroke="#ee6a4a" stroke-width="0.9"/>
<path d="M641.4 309.1H663.6" stroke="#f5e27a" stroke-width="3.3"/>
</g>
<text class="sans" transform="translate(494.3,331.2) rotate(90) scale(1,1.0)" font-size="12" fill="#222" stroke="#222" stroke-width="0.3" textLength="78.8" lengthAdjust="spacingAndGlyphs">Phytophagous</text>
<text class="sans" transform="translate(476.8,352) rotate(90) scale(1,1.0)" font-size="12" fill="#222" stroke="#222" stroke-width="0.3" textLength="40" lengthAdjust="spacingAndGlyphs">beetles</text>
<text class="sans" transform="translate(552,330.5) rotate(90) scale(1,1.0)" font-size="12" fill="#222" stroke="#222" stroke-width="0.3" textLength="79" lengthAdjust="spacingAndGlyphs">Phytophagous</text>
<text class="sans" transform="translate(536.3,357.5) rotate(90) scale(1,1.0)" font-size="9.5" fill="#222" stroke="#222" stroke-width="0.3" textLength="28" lengthAdjust="spacingAndGlyphs">bugs</text>
<text class="sans" transform="translate(600.8,329.2) rotate(90) scale(1,1.16)" font-size="12" fill="#222" stroke="#222" stroke-width="0.3" textLength="61" lengthAdjust="spacingAndGlyphs">Caterpillars</text>
<text class="sans" transform="translate(651.8,326.7) rotate(90) scale(1,1.0)" font-size="12" fill="#222" stroke="#222" stroke-width="0.3" textLength="102.5" lengthAdjust="spacingAndGlyphs">Grasshoppers and</text>
<text class="sans" transform="translate(635.4,354.3) rotate(90) scale(1,1.0)" font-size="11.2" fill="#222" stroke="#222" stroke-width="0.3" textLength="43.1" lengthAdjust="spacingAndGlyphs">crickets</text>
<text class="sans" x="507.5" y="432.5" font-size="16" fill="#111" stroke="#111" stroke-width="0.65" textLength="121.5" lengthAdjust="spacingAndGlyphs">Prey food source</text>
</g>
</svg></body></html>
